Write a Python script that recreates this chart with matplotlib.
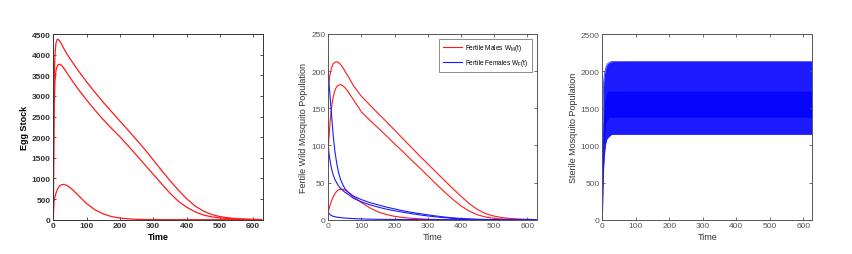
import matplotlib
matplotlib.use("Agg")
import matplotlib.pyplot as plt

plt.rcParams['font.family'] = ['Liberation Sans', 'DejaVu Sans']
plt.rcParams['mathtext.fontset'] = 'custom'
plt.rcParams['mathtext.rm'] = 'Liberation Sans'
plt.rcParams['mathtext.it'] = 'Liberation Sans'

# ---------------- Panel 1: Egg stock ----------------
t_egg = [0, 1, 2, 3, 5, 8, 12, 16, 20, 25, 30, 40, 50, 60, 75, 100, 125, 150, 175, 200,
         225, 250, 275, 300, 325, 350, 375, 400, 425, 450, 475, 500, 525, 550, 575, 600, 625]
egg_a = [0, 1800, 2900, 3500, 4000, 4280, 4375, 4360, 4320, 4250, 4170, 4030, 3905, 3785, 3610, 3340,
         3085, 2845, 2615, 2390, 2165, 1935, 1700, 1450, 1195, 950, 720, 510, 335, 210, 128, 76,
         45, 27, 15, 8, 4]
egg_b = [0, 1200, 2200, 2800, 3350, 3620, 3730, 3765, 3765, 3740, 3690, 3570, 3450, 3330, 3160, 2900,
         2655, 2425, 2210, 2010, 1785, 1560, 1330, 1100, 870, 645, 450, 305, 192, 115, 70, 45,
         28, 16, 8, 3, 1]
egg_c = [0, 250, 420, 500, 560, 640, 730, 790, 825, 848, 855, 835, 780, 710, 590, 390,
         240, 140, 75, 40, 20, 10, 5, 2, 1, 0.5, 0.2, 0, 0, 0, 0, 0,
         0, 0, 0, 0, 0]

# ---------------- Panel 2: Fertile wild mosquitoes ----------------
t_w = [0, 2, 5, 10, 15, 20, 25, 30, 37, 45, 50, 60, 75, 100, 125, 150, 175, 200,
       225, 250, 275, 300, 325, 350, 375, 400, 425, 450, 475, 500, 525, 550, 575, 600, 625]
male_1 = [180, 186, 195, 205, 210, 212, 212.5, 212, 209, 204, 200, 193, 181, 166, 154.5, 143, 132, 120.5,
          109, 97.5, 86, 75, 64, 53, 42, 31.5, 21.5, 13.5, 8, 4.8, 2.8, 1.6, 0.9, 0.5, 0.2]
male_2 = [95, 110, 130, 152, 166, 174, 179, 181, 182, 180, 178, 172, 162, 145, 134, 123.5, 113, 102,
          91.5, 80.5, 70, 59, 48, 37.5, 27.5, 18.5, 11.5, 6.5, 3.5, 1.8, 0.9, 0.4, 0.2, 0.1, 0]
male_3 = [10, 14, 19, 26, 31, 35, 38, 40, 41, 41, 40, 37, 31, 23, 16, 10.5, 7, 4.5,
          3, 2, 1.2, 0.6, 0.3, 0.2, 0.1, 0.1, 0, 0, 0, 0, 0, 0, 0, 0, 0]
female_1 = [200, 185, 168, 140, 112, 92, 77, 65, 54, 46, 42, 37, 32, 27, 23, 20, 17, 14.5,
            12, 10, 8.2, 6.5, 5, 3.6, 2.5, 1.6, 1, 0.5, 0.3, 0.2, 0.1, 0, 0, 0, 0]
female_2 = [100, 90, 80, 68, 60, 54, 50, 46, 42, 39, 37, 34, 29, 24, 20, 17, 14.2, 12,
            10, 8.2, 6.5, 5, 3.8, 2.7, 1.8, 1, 0.6, 0.3, 0.2, 0.1, 0, 0, 0, 0, 0]
female_3 = [10, 8.5, 7, 5.5, 4.5, 4, 3.6, 3.2, 2.8, 2.4, 2.2, 1.9, 1.5, 1, 0.7, 0.5, 0.4, 0.3,
            0.2, 0.2, 0.1, 0.1, 0.1, 0, 0, 0, 0, 0, 0, 0, 0, 0, 0, 0, 0]

# ---------------- Panel 3: Sterile mosquitoes (dense oscillation band) ----------------
t_s = [0, 1, 2, 3, 4, 6, 8, 10, 13, 16, 20, 25, 30, 40, 625]
sterile_upper = [200, 1100, 1500, 1700, 1850, 1950, 2000, 2040, 2080, 2100, 2115, 2125, 2130, 2130, 2130]
sterile_lower = [0, 150, 400, 550, 700, 850, 950, 1020, 1080, 1100, 1120, 1140, 1150, 1150, 1150]
sterile_core_hi = [120, 700, 1050, 1250, 1400, 1520, 1600, 1660, 1700, 1720, 1730, 1730, 1730, 1730, 1730]
sterile_core_lo = [60, 450, 720, 880, 980, 1120, 1220, 1290, 1330, 1350, 1370, 1380, 1380, 1380, 1380]

RED = '#ff1a1a'
BLUE = '#1a1aff'

fig = plt.figure(figsize=(8.52, 2.55), dpi=100)
W, H = 852.0, 255.0

def add_ax(x0, x1, ytop, ybot):
    return fig.add_axes([x0 / W, (H - ybot) / H, (x1 - x0) / W, (ybot - ytop) / H])

def style(ax, color, weight):
    for s in ax.spines.values():
        s.set_color(color)
        s.set_linewidth(0.7)
    ax.tick_params(direction='in', top=True, right=True, length=2.5, width=0.6,
                   labelsize=6, colors=color, pad=2)
    for lab in ax.get_xticklabels() + ax.get_yticklabels():
        lab.set_fontweight(weight)

# Panel 1
ax1 = add_ax(53.3, 262.5, 35, 220.7)
for y in (egg_a, egg_b, egg_c):
    ax1.plot(t_egg, y, color=RED, lw=0.9)
ax1.set_xlim(0, 628)
ax1.set_ylim(0, 4500)
ax1.set_xticks(range(0, 601, 100))
ax1.set_yticks(range(0, 4501, 500))
style(ax1, '#333333', 'bold')
ax1.set_xlabel('Time', fontsize=6.5, fontweight='bold', labelpad=2)
ax1.set_ylabel('Egg Stock', fontsize=6.5, fontweight='bold', labelpad=2)

# Panel 2
ax2 = add_ax(328.3, 536.7, 35, 220.7)
l1, = ax2.plot(t_w, male_1, color=RED, lw=0.8)
ax2.plot(t_w, male_2, color=RED, lw=0.8)
ax2.plot(t_w, male_3, color=RED, lw=0.8)
l2, = ax2.plot(t_w, female_1, color=BLUE, lw=0.8)
ax2.plot(t_w, female_2, color=BLUE, lw=0.8)
ax2.plot(t_w, female_3, color=BLUE, lw=0.8)
ax2.set_xlim(0, 628)
ax2.set_ylim(0, 250)
ax2.set_xticks(range(0, 601, 100))
ax2.set_yticks(range(0, 251, 50))
style(ax2, '#555555', 'normal')
ax2.set_xlabel('Time', fontsize=6.5, color='#333333', labelpad=2)
ax2.set_ylabel('Fertile Wild Mosquito Population', fontsize=6.5, color='#333333', labelpad=2)
leg = ax2.legend([l1, l2], [r'Fertile Males W$_{M}$(t)', r'Fertile Females W$_{F}$(t)'],
                 loc='upper right', fontsize=4.7, frameon=True, fancybox=False,
                 edgecolor='#333333', handlelength=3.0, borderpad=0.5, labelspacing=0.7,
                 handletextpad=0.5, borderaxespad=0.7)
leg.get_frame().set_linewidth(0.5)

# Panel 3
ax3 = add_ax(602.3, 812.3, 35, 220.7)
ax3.fill_between(t_s, sterile_lower, sterile_upper, color='#1c1cff', lw=0)
ax3.fill_between(t_s, sterile_core_lo, sterile_core_hi, color='#0505fc', lw=0)
ax3.plot(t_s, sterile_upper, color='#1c1cff', lw=0.5)
ax3.plot(t_s, sterile_lower, color='#1c1cff', lw=0.5)
ax3.set_xlim(0, 627)
ax3.set_ylim(0, 2500)
ax3.set_xticks(range(0, 601, 100))
ax3.set_yticks(range(0, 2501, 500))
style(ax3, '#555555', 'normal')
ax3.set_xlabel('Time', fontsize=6.5, color='#333333', labelpad=2)
ax3.set_ylabel('Sterile Mosquito Population', fontsize=6.5, color='#333333', labelpad=2)

fig.savefig('out.png', dpi=100)
